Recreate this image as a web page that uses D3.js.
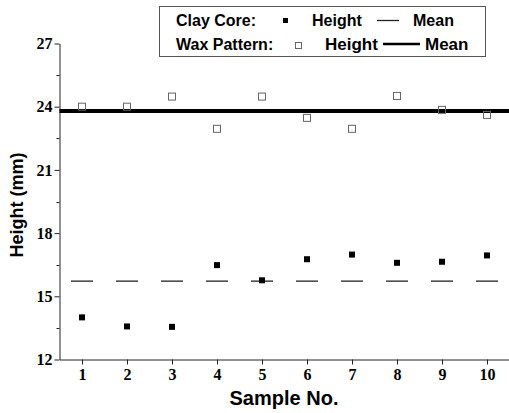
<!DOCTYPE html>
<html><head><meta charset="utf-8">
<script src="https://cdn.jsdelivr.net/npm/d3@7"></script>
<style>body{margin:0;background:#fff}svg{display:block}</style>
</head><body>
<script>
const samples = [1,2,3,4,5,6,7,8,9,10];
const clayHeight = [14.0,13.57,13.55,16.48,15.76,16.76,16.98,16.59,16.64,16.94];
const waxHeight = [24.0,24.0,24.48,22.95,24.48,23.47,22.95,24.51,23.85,23.61];
const clayMean = 15.72;
const waxMean = 23.80;
const yTicks = [12,15,18,21,24,27];

const W=509,H=413;
const svg=d3.select("body").append("svg").attr("width",W).attr("height",H);
const x=d3.scaleLinear().domain([0.5,10.5]).range([59.5,509.5]);
const y=d3.scaleLinear().domain([12,27]).range([359.5,43.5]);

// y axis
const yAxis=d3.axisLeft(y).tickValues(yTicks).tickSize(5).tickSizeOuter(0).tickPadding(2).tickFormat(d3.format("d"));
const gy=svg.append("g").attr("transform","translate(59.5,0)").call(yAxis);
gy.selectAll("text").attr("font-family","Liberation Serif").attr("font-weight","bold").attr("font-size",16).attr("fill","#000");
gy.selectAll("line,path").attr("stroke","#222");
svg.append("g").selectAll("line").data(d3.range(13.5,27,3)).join("line")
 .attr("x1",56.5).attr("x2",59.5).attr("y1",d=>Math.round(y(d))+0.5).attr("y2",d=>Math.round(y(d))+0.5).attr("stroke","#222");

// x axis
const xAxis=d3.axisBottom(x).tickValues(samples).tickSize(5).tickSizeOuter(0).tickPadding(4).tickFormat(d3.format("d"));
const gx=svg.append("g").attr("transform","translate(0,359.5)").call(xAxis);
gx.selectAll("text").attr("font-family","Liberation Serif").attr("font-weight","bold").attr("font-size",16).attr("fill","#000");
gx.selectAll("line,path").attr("stroke","#222");

// wax mean (thick line)
svg.append("line").attr("x1",x(0.5)).attr("x2",x(10.5)).attr("y1",y(waxMean)).attr("y2",y(waxMean))
 .attr("stroke","#000").attr("stroke-width",4);

// clay mean (short dashes per sample)
svg.append("g").selectAll("line").data(samples).join("line")
 .attr("x1",d=>x(d)-11).attr("x2",d=>x(d)+11).attr("y1",y(clayMean)).attr("y2",y(clayMean))
 .attr("stroke","#222").attr("stroke-width",1.3);

// clay height filled squares
svg.append("g").selectAll("rect").data(samples).join("rect")
 .attr("x",(d,i)=>x(d)-3).attr("y",(d,i)=>y(clayHeight[i])-3).attr("width",6).attr("height",6).attr("fill","#000");

// wax open squares
svg.append("g").selectAll("rect").data(samples).join("rect")
 .attr("x",(d,i)=>x(d)-3.5).attr("y",(d,i)=>y(waxHeight[i])-3.5).attr("width",7).attr("height",7)
 .attr("fill","none").attr("stroke","#666").attr("stroke-width",1);

// axis titles
svg.append("text").attr("x",284).attr("y",405).attr("text-anchor","middle")
 .attr("font-family","Liberation Sans").attr("font-weight","bold").attr("font-size",20).text("Sample No.");
svg.append("text").attr("transform","translate(23,205) rotate(-90)").attr("text-anchor","middle")
 .attr("font-family","Liberation Sans").attr("font-weight","bold").attr("font-size",18).text("Height (mm)");

// legend
const lg=svg.append("g");
lg.append("rect").attr("x",159.5).attr("y",6.5).attr("width",326).attr("height",50).attr("fill","#fff").attr("stroke","#555");
function t(xp,yp,s,fs){return lg.append("text").attr("x",xp).attr("y",yp).text(s)
 .attr("font-family","Liberation Sans").attr("font-weight","bold").attr("font-size",fs);}
t(176,26,"Clay Core:",16);
lg.append("rect").attr("x",283).attr("y",18).attr("width",5).attr("height",5).attr("fill","#000");
t(312,26,"Height",16);
lg.append("line").attr("x1",377).attr("x2",399).attr("y1",20.5).attr("y2",20.5).attr("stroke","#222").attr("stroke-width",1.3);
t(413,26,"Mean",16);
t(176,50,"Wax Pattern:",16);
lg.append("rect").attr("x",295.5).attr("y",42.5).attr("width",6).attr("height",6).attr("fill","none").attr("stroke","#666");
t(325,50,"Height",17);
lg.append("line").attr("x1",383).attr("x2",420).attr("y1",44).attr("y2",44).attr("stroke","#000").attr("stroke-width",2.5);
t(425,50,"Mean",17);
</script>
</body></html>
